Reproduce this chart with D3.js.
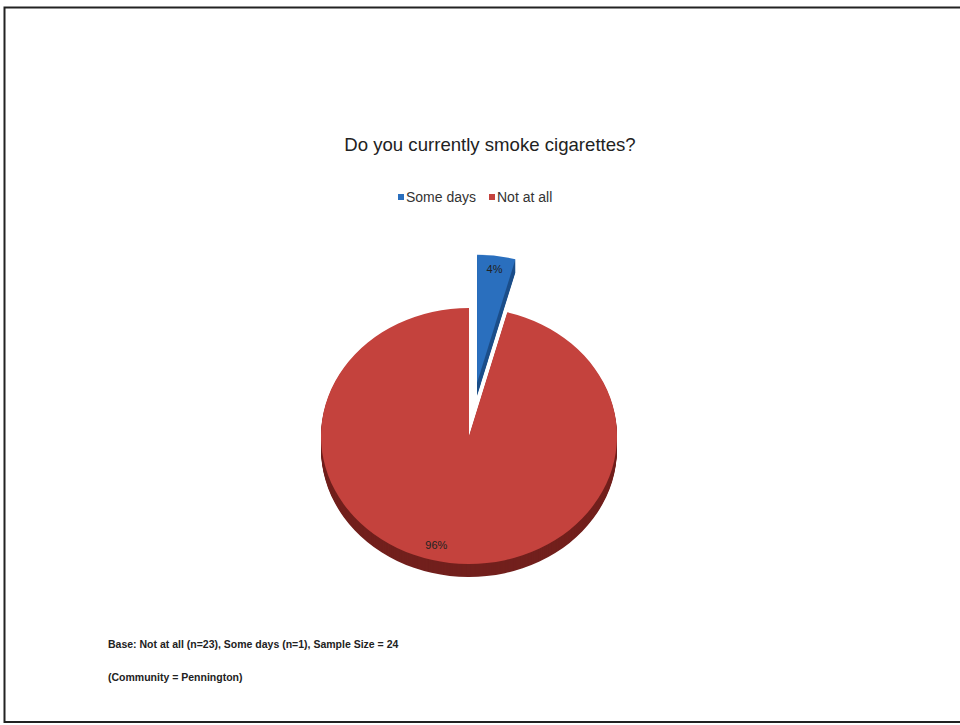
<!DOCTYPE html>
<html><head><meta charset="utf-8">
<script src="https://cdn.jsdelivr.net/npm/d3@7"></script>
<style>body{margin:0;background:#fff}svg{display:block}</style>
</head><body>
<script>
const categories = ["Some days", "Not at all"];
const counts = [1, 23];
const pctLabels = ["4%", "96%"];
const colors = ["#2a6fbe", "#c4423d"];
const sideColors = ["#1d4f8a", "#72201d"];
const title = "Do you currently smoke cigarettes?";
const notes = ["Base: Not at all (n=23), Some days (n=1), Sample Size = 24", "(Community = Pennington)"];

const W = 960, H = 725;
const svg = d3.select("body").append("svg").attr("width", W).attr("height", H);
svg.append("rect").attr("width", W).attr("height", H).attr("fill", "#fff");

// frame
svg.append("path").attr("d", "M960,7.5 H4.5 V722 H960").attr("fill", "none").attr("stroke", "#222").attr("stroke-width", 2);

svg.append("text").attr("x", 490).attr("y", 151).attr("text-anchor", "middle")
  .attr("font-family", "Liberation Sans, Arial, sans-serif").attr("font-size", 18.6).attr("fill", "#222").text(title);

// legend
const leg = svg.append("g").attr("font-family", "Liberation Sans, Arial, sans-serif").attr("font-size", 14).attr("fill", "#333");
const legX = [398, 489];
categories.forEach((c, i) => {
  leg.append("rect").attr("x", legX[i]).attr("y", 194).attr("width", 6).attr("height", 6).attr("fill", colors[i]);
  leg.append("text").attr("x", legX[i] + 8).attr("y", 202).text(c);
});

// pseudo 3D pie
const cx = 469, cy = 436, rx = 148, tilt = 128 / 148, depth = 13, explode = 62;
const pie = d3.pie().sort(null).startAngle(0).endAngle(2 * Math.PI);
const arcs = pie(counts);
const arc = d3.arc().innerRadius(0).outerRadius(rx);
const g = svg.append("g");

arcs.forEach((a, i) => {
  const mid = (a.startAngle + a.endAngle) / 2;
  const off = i === 0 ? explode : 0;
  const ox = off * Math.sin(mid), oy = -off * Math.cos(mid) * tilt;
  const sg = g.append("g");
  for (let k = depth; k >= 1; k--) {
    sg.append("path").attr("d", arc(a))
      .attr("transform", `translate(${cx + ox},${cy + oy + k}) scale(1,${tilt})`)
      .attr("fill", sideColors[i]);
  }
});
arcs.forEach((a, i) => {
  const mid = (a.startAngle + a.endAngle) / 2;
  const off = i === 0 ? explode : 0;
  const ox = off * Math.sin(mid), oy = -off * Math.cos(mid) * tilt;
  g.append("path").attr("d", arc(a))
    .attr("transform", `translate(${cx + ox},${cy + oy}) scale(1,${tilt})`)
    .attr("fill", colors[i]);
  const lr = i === 0 ? rx * 0.9 : rx * 0.86;
  const lx = cx + ox + lr * Math.sin(mid) + (i === 1 ? -16 : 0);
  const ly = cy + oy - lr * Math.cos(mid) * tilt;
  g.append("text").attr("x", lx).attr("y", ly + 4).attr("text-anchor", "middle")
    .attr("font-family", "Liberation Sans, Arial, sans-serif").attr("font-size", 11).attr("fill", "#222")
    .text(pctLabels[i]);
});

const nt = svg.append("g").attr("font-family", "Liberation Sans, Arial, sans-serif").attr("font-size", 10.5).attr("font-weight", "bold").attr("fill", "#222");
nt.append("text").attr("x", 108).attr("y", 648).text(notes[0]);
nt.append("text").attr("x", 108).attr("y", 681).text(notes[1]);
</script>
</body></html>
